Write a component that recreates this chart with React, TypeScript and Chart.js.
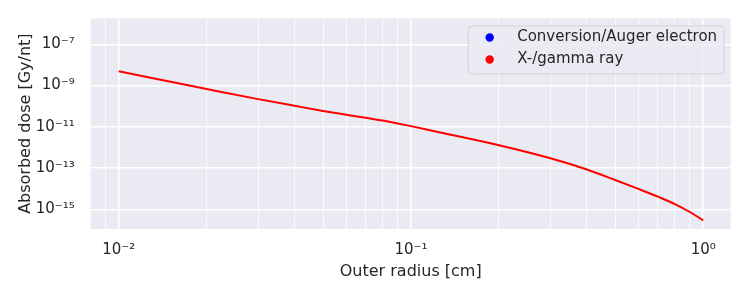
import React, { useEffect, useRef } from "react";
import { Chart, registerables } from "chart.js";

Chart.register(...registerables);

// ---- data ----
const outerRadiusCm = [
  0.01, 0.02, 0.03, 0.04, 0.05, 0.06, 0.07, 0.08, 0.09, 0.1,
  0.126, 0.2, 0.3, 0.4, 0.5, 0.6, 0.7, 0.8, 0.9, 1.0,
];
const gammaDose = [
  4.9e-9, 6.8e-10, 2.2e-10, 1.04e-10, 5.9e-11, 3.87e-11, 2.73e-11, 2.0e-11, 1.46e-11, 1.08e-11,
  5.3e-12, 1.27e-12, 2.97e-13, 8.5e-14, 2.63e-14, 9.75e-15, 4.1e-15, 1.8e-15, 7.4e-16, 2.93e-16,
];
const electronRadiusCm: number[] = [];
const electronDose: number[] = [];

const seriesLabels = ["Conversion/Auger electron", "X-/gamma ray"];
const seriesColors = ["#0000ff", "#ff0000"];

const xGridTicks = [
  0.009, 0.01, 0.02, 0.03, 0.04, 0.05, 0.06, 0.07, 0.08, 0.09,
  0.1, 0.2, 0.3, 0.4, 0.5, 0.6, 0.7, 0.8, 0.9, 1.0,
];
const yGridTicks = [1e-15, 1e-13, 1e-11, 1e-9, 1e-7];

const xTitle = "Outer radius [cm]";
const yTitle = "Absorbed dose [Gy/nt]";

const X_MIN = Math.pow(10, -2.096);
const X_MAX = Math.pow(10, 0.094);
const Y_MIN = Math.pow(10, -15.955);
const Y_MAX = Math.pow(10, -5.739);

const FONT = "'DejaVu Sans', sans-serif";
const TEXT = "#262626";

const SUP: Record<string, string> = {
  "-": "\u207B", "0": "\u2070", "1": "\u00B9", "2": "\u00B2", "3": "\u00B3",
  "4": "\u2074", "5": "\u2075", "6": "\u2076", "7": "\u2077", "8": "\u2078", "9": "\u2079",
};
const isDecade = (v: number) => {
  const l = Math.log10(v);
  return Math.abs(l - Math.round(l)) < 1e-6;
};
const powLabel = (v: number) => {
  if (!isDecade(v)) return "";
  const e = String(Math.round(Math.log10(v)));
  return "10" + e.split("").map((c) => SUP[c] || c).join("");
};

const bgPlugin = {
  id: "axesBg",
  beforeDraw(chart: any) {
    const { ctx, chartArea: a } = chart;
    ctx.save();
    ctx.fillStyle = "#ffffff";
    ctx.fillRect(0, 0, chart.width, chart.height);
    ctx.fillStyle = "#EAEAF2";
    ctx.fillRect(a.left, a.top, a.right - a.left, a.bottom - a.top);
    ctx.restore();
  },
};

const legendPlugin = {
  id: "insideLegend",
  afterDraw(chart: any) {
    const { ctx, chartArea: a } = chart;
    const w = 256;
    const h = 48;
    const x = a.right - 6.5 - w;
    const y = a.top + 7.7;
    ctx.save();
    ctx.beginPath();
    ctx.roundRect(x, y, w, h, 4);
    ctx.fillStyle = "rgba(234,234,242,0.8)";
    ctx.fill();
    ctx.lineWidth = 1;
    ctx.strokeStyle = "rgba(204,204,204,0.8)";
    ctx.stroke();
    ctx.font = `15px ${FONT}`;
    ctx.textBaseline = "middle";
    ctx.textAlign = "left";
    chart.data.datasets.forEach((ds: any, i: number) => {
      const cy = y + 11.5 + i * 22;
      ctx.beginPath();
      ctx.arc(x + 21.5, cy, 4.2, 0, Math.PI * 2);
      ctx.fillStyle = ds.borderColor;
      ctx.fill();
      ctx.fillStyle = TEXT;
      ctx.fillText(ds.label, x + 49, cy);
    });
    ctx.restore();
  },
};

export default function App() {
  const ref = useRef<HTMLCanvasElement | null>(null);

  useEffect(() => {
    document.body.style.margin = "0";
    const canvas = ref.current;
    if (!canvas) return;
    const chart = new Chart(canvas, {
      type: "line",
      data: {
        datasets: [
          {
            label: seriesLabels[0],
            data: electronRadiusCm.map((r, i) => ({ x: r, y: electronDose[i] })),
            borderColor: seriesColors[0],
            backgroundColor: seriesColors[0],
            pointRadius: 0,
            borderWidth: 2,
          },
          {
            label: seriesLabels[1],
            data: outerRadiusCm.map((r, i) => ({ x: r, y: gammaDose[i] })),
            borderColor: seriesColors[1],
            backgroundColor: seriesColors[1],
            pointRadius: 0,
            borderWidth: 2,
            cubicInterpolationMode: "monotone",
          },
        ],
      },
      options: {
        animation: false,
        responsive: false,
        devicePixelRatio: 1,
        layout: { padding: { left: 0, top: 18.3, right: 19.3, bottom: 0 } },
        plugins: {
          legend: { display: false },
          tooltip: { enabled: false },
        },
        scales: {
          x: {
            type: "logarithmic",
            min: X_MIN,
            max: X_MAX,
            afterBuildTicks: (s: any) => {
              s.ticks = xGridTicks.map((v) => ({ value: v, major: isDecade(v) }));
            },
            afterFit: (s: any) => {
              s.height = 71;
              s.paddingLeft = 0;
              s.paddingRight = 0;
            },
            border: { display: false },
            grid: {
              drawTicks: false,
              color: "#ffffff",
              lineWidth: (c: any) => (c.tick && isDecade(c.tick.value) ? 1.5 : 0.8),
            },
            ticks: {
              autoSkip: false,
              maxRotation: 0,
              padding: 12,
              color: TEXT,
              font: { family: FONT, size: 15 },
              callback: (v: any) => powLabel(Number(v)),
            },
            title: {
              display: true,
              text: xTitle,
              color: TEXT,
              font: { family: FONT, size: 16 },
              padding: { top: 0, bottom: 18.5 },
            },
          },
          y: {
            type: "logarithmic",
            min: Y_MIN,
            max: Y_MAX,
            afterBuildTicks: (s: any) => {
              s.ticks = yGridTicks.map((v) => ({ value: v, major: true }));
            },
            afterFit: (s: any) => {
              s.width = 90.7;
              s.paddingTop = 0;
              s.paddingBottom = 0;
            },
            border: { display: false },
            grid: { drawTicks: false, color: "#ffffff", lineWidth: 1.5 },
            ticks: {
              autoSkip: false,
              padding: 16,
              color: TEXT,
              font: { family: FONT, size: 15 },
              callback: (v: any) => powLabel(Number(v)),
            },
            title: {
              display: true,
              text: yTitle,
              color: TEXT,
              font: { family: FONT, size: 16 },
              padding: { top: 16, bottom: 0 },
            },
          },
        },
      },
      plugins: [bgPlugin, legendPlugin],
    } as any);
    return () => chart.destroy();
  }, []);

  return (
    <div style={{ width: 750, height: 300 }}>
      <canvas ref={ref} width={750} height={300} style={{ display: "block" }} />
    </div>
  );
}
